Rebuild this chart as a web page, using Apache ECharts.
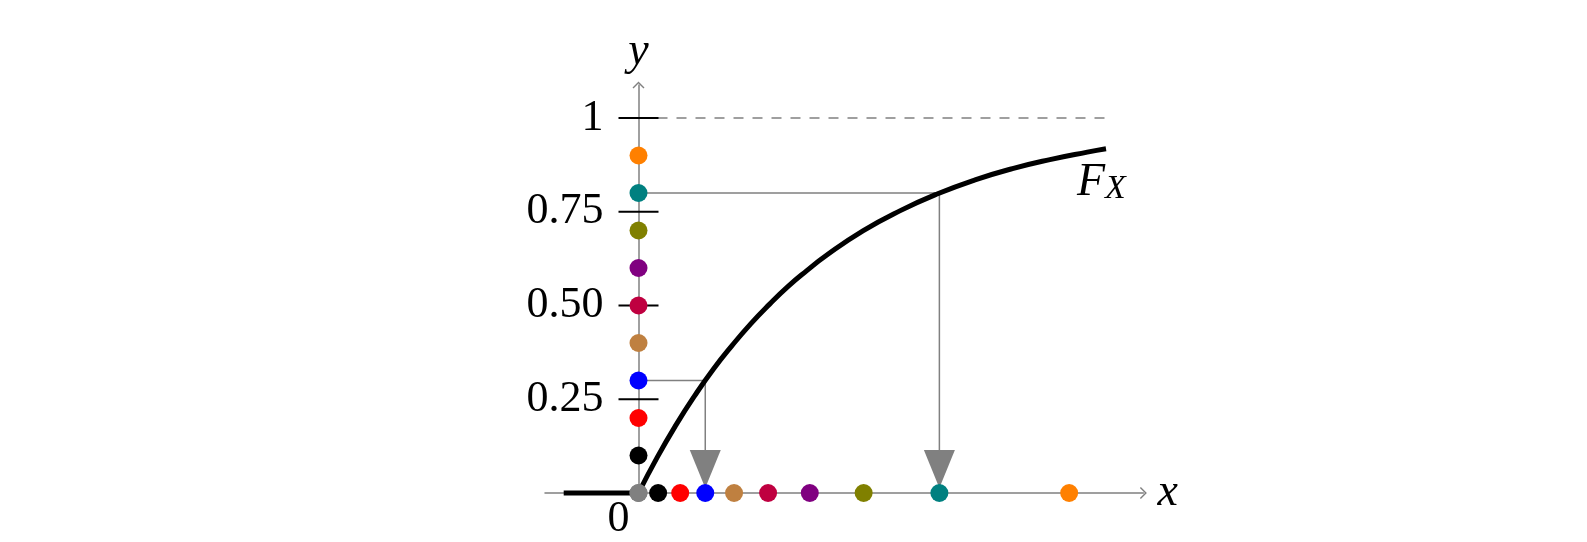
<!DOCTYPE html>
<html>
<head>
<meta charset="utf-8">
<script src="https://cdn.jsdelivr.net/npm/echarts@6/dist/echarts.min.js"></script>
<style>
  html, body { margin: 0; padding: 0; background: #ffffff; }
  #chart { width: 1587px; height: 542px; }
</style>
</head>
<body>
<div id="chart"></div>
<script>
// ---- data ----
// uniform samples on the y axis (u) and their images on the x axis (F_X^{-1}(u))
const uValues = [0, 0.1, 0.2, 0.3, 0.4, 0.5, 0.6, 0.7, 0.8, 0.9];
const xValues = [0, 0.105, 0.223, 0.357, 0.511, 0.693, 0.916, 1.204, 1.609, 2.303];
const sampleColors = ['#808080', '#000000', '#ff0000', '#0000ff', '#bf8040',
                      '#bf0040', '#800080', '#808000', '#008080', '#ff8000'];
// samples whose projection is drawn (indices into the arrays above)
const projectedIdx = [3, 8];
// the CDF curve F_X
const curveX = [0, 0.1, 0.2, 0.3, 0.4, 0.5, 0.6, 0.7, 0.8, 0.9, 1.0, 1.2, 1.4, 1.6, 1.8, 2.0, 2.2, 2.4, 2.5];
const curveY = [0, 0.095, 0.181, 0.259, 0.330, 0.393, 0.451, 0.503, 0.551, 0.593, 0.632, 0.699, 0.753, 0.798, 0.835, 0.865, 0.889, 0.909, 0.918];
// flat part for x < 0
const flatX = [-0.4, 0];
const flatY = [0, 0];
// upper bound line
const boundX = [0, 2.5];
const boundY = [1, 1];
// tick labels
const yTickValues = [0.25, 0.5, 0.75, 1];
const yTickLabels = ['0.25', '0.50', '0.75', '1'];
const xTickValues = [0];
const xTickLabels = ['0'];
const curveName = 'F_X';

// ---- chart ----
const GRAY = '#808080';
const SERIF = '"Liberation Serif", "DejaVu Serif", serif';
const chevron = 'path://M0,6 L6,0 L12,6 L11,7 L6,2 L1,7 Z';

const chart = echarts.init(document.getElementById('chart'), null, { renderer: 'canvas' });

const series = [];

// dashed bound at y = 1
series.push({
  type: 'line', clip: false, silent: true, symbol: 'none', z: 2,
  data: boundX.map((x, i) => [x, boundY[i]]),
  lineStyle: { color: GRAY, width: 1.5, type: [10, 9] }
});

// projection lines
projectedIdx.forEach(k => {
  series.push({
    type: 'line', clip: false, silent: true, symbol: 'none', z: 3,
    data: [[0, uValues[k]], [xValues[k], uValues[k]], [xValues[k], 0]],
    lineStyle: { color: GRAY, width: 1.5 }
  });
});

// flat part and the CDF curve
series.push({
  type: 'line', clip: false, silent: true, symbol: 'none', z: 4,
  data: flatX.map((x, i) => [x, flatY[i]]),
  lineStyle: { color: '#000', width: 5 }
});
series.push({
  type: 'line', clip: false, silent: true, symbol: 'none', z: 4, smooth: true,
  data: curveX.map((x, i) => [x, curveY[i]]),
  lineStyle: { color: '#000', width: 5 }
});

// curve label F_X at the end of the curve
series.push({
  type: 'scatter', clip: false, silent: true, symbolSize: 0, z: 5,
  data: [[curveX[curveX.length - 1], curveY[curveY.length - 1]]],
  itemStyle: { opacity: 1 },
  label: {
    show: true, position: [-29, 11], align: 'left', verticalAlign: 'top',
    color: '#000', opacity: 1,
    formatter: '{f|' + curveName.split('_')[0] + '}{s|' + curveName.split('_')[1] + '}',
    rich: {
      f: { fontFamily: SERIF, fontStyle: 'italic', fontSize: 46, lineHeight: 46, color: '#000' },
      s: { fontFamily: SERIF, fontStyle: 'italic', fontSize: 34, lineHeight: 2, verticalAlign: 'bottom', color: '#000' }
    }
  }
});

// tick marks crossing the y axis
series.push({
  type: 'scatter', clip: false, silent: true, z: 5,
  symbol: 'rect', symbolSize: [40, 2],
  data: yTickValues.map(v => [0, v]),
  itemStyle: { color: '#000', opacity: 1 }
});

// arrowheads of the projections
series.push({
  type: 'scatter', clip: false, silent: true, z: 6,
  symbol: 'triangle', symbolRotate: 180, symbolSize: [31, 38], symbolOffset: [0, -24],
  data: projectedIdx.map(k => [xValues[k], 0]),
  itemStyle: { color: GRAY, opacity: 1 }
});

// samples on the y axis
series.push({
  type: 'scatter', clip: false, silent: true, z: 7, symbolSize: 18,
  data: uValues.map((u, i) => ({ value: [0, u], itemStyle: { color: sampleColors[i], opacity: 1 } }))
});
// samples on the x axis
series.push({
  type: 'scatter', clip: false, silent: true, z: 7, symbolSize: 18,
  data: xValues.map((x, i) => ({ value: [x, 0], itemStyle: { color: sampleColors[i], opacity: 1 } }))
});

const option = {
  backgroundColor: '#ffffff',
  animation: false,
  grid: { left: 545, right: 443.6, top: 85, bottom: 49, containLabel: false },
  xAxis: {
    type: 'value', min: -0.5, max: 2.7,
    axisLine: {
      show: true, onZero: true,
      lineStyle: { color: GRAY, width: 1.5 },
      symbol: ['none', chevron], symbolSize: [13, 7]
    },
    axisTick: { show: false },
    splitLine: { show: false },
    axisLabel: {
      customValues: xTickValues,
      formatter: v => xTickLabels[xTickValues.indexOf(v)],
      fontFamily: SERIF, fontSize: 44, color: '#000',
      margin: 4, padding: [0, 40, 0, 0]
    },
    name: 'x', nameLocation: 'end', nameGap: 14,
    nameTextStyle: { fontFamily: SERIF, fontStyle: 'italic', fontSize: 46, color: '#000', verticalAlign: 'middle' }
  },
  yAxis: {
    type: 'value', min: 0, max: 1.088,
    position: 'left', offset: -93.5,
    axisLine: {
      show: true, onZero: false,
      lineStyle: { color: GRAY, width: 1.5 },
      symbol: ['none', chevron], symbolSize: [13, 7]
    },
    axisTick: { show: false },
    splitLine: { show: false },
    axisLabel: {
      customValues: yTickValues,
      formatter: v => yTickLabels[yTickValues.indexOf(v)],
      fontFamily: SERIF, fontSize: 44, color: '#000',
      margin: 35
    },
    name: 'y', nameLocation: 'end', nameGap: 10,
    nameTextStyle: { fontFamily: SERIF, fontStyle: 'italic', fontSize: 46, color: '#000' }
  },
  series: series
};

chart.setOption(option);
</script>
</body>
</html>
